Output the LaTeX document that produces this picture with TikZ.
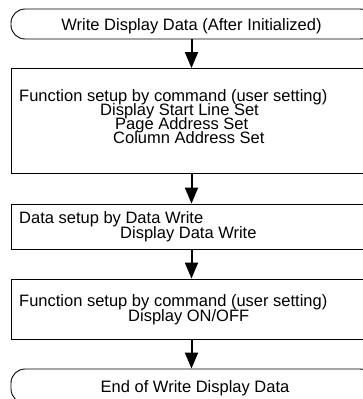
\documentclass[tikz,border=0pt]{standalone}
\usepackage{fontspec}
\setmainfont{Liberation Sans}
\usetikzlibrary{arrows.meta}
\begin{document}
\begin{tikzpicture}[x=1pt,y=-1pt,
  every node/.style={font=\fontsize{16.5}{16.5}\selectfont, inner sep=0pt},
  procbox/.style={draw, line width=0.9pt, minimum width=363pt},
  termbox/.style={draw, line width=0.9pt, rounded corners=14pt, minimum width=363pt, minimum height=30pt},
  txt/.style={anchor=base west},
  ctxt/.style={anchor=base},
  flow/.style={line width=2pt, -{Triangle[width=13pt,length=16pt]}}]
\useasboundingbox (0,0) rectangle (363,399);
\clip (0,0) rectangle (363,399);
% shapes
\node[termbox] (start) at (192.5,24) {};
\node[procbox, minimum height=105pt] (b1) at (192.5,121) {};
\node[procbox, minimum height=45pt] (b2) at (192.5,226.5) {};
\node[procbox, minimum height=60pt] (b3) at (192.5,309) {};
\node[termbox, minimum height=34pt] (end) at (192.5,386) {};
% texts
\node[ctxt] (t0) at (191.5,30) {Write Display Data (After Initialized)};
\node[txt] (t11) at (19,101) {Function setup by command (user setting)};
\node[txt] (t12) at (100,115) {Display Start Line Set};
\node[txt] (t13) at (115,129) {Page Address Set};
\node[txt] (t14) at (113,143) {Column Address Set};
\node[txt] (t21) at (19,223) {Data setup by Data Write};
\node[txt] (t22) at (120,238) {Display Data Write};
\node[txt] (t31) at (19,306) {Function setup by command (user setting)};
\node[txt] (t32) at (128,321) {Display ON/OFF};
\node[ctxt] (t4) at (195,392) {End of Write Display Data};
% arrows
\draw[flow] (start.south -| 191.5,0) -- (b1.north -| 191.5,0);
\draw[flow] (b1.south -| 191.5,0) -- (b2.north -| 191.5,0);
\draw[flow] (b2.south -| 191.5,0) -- (b3.north -| 191.5,0);
\draw[flow] (b3.south -| 191.5,0) -- (end.north -| 191.5,0);
\end{tikzpicture}
\end{document}
